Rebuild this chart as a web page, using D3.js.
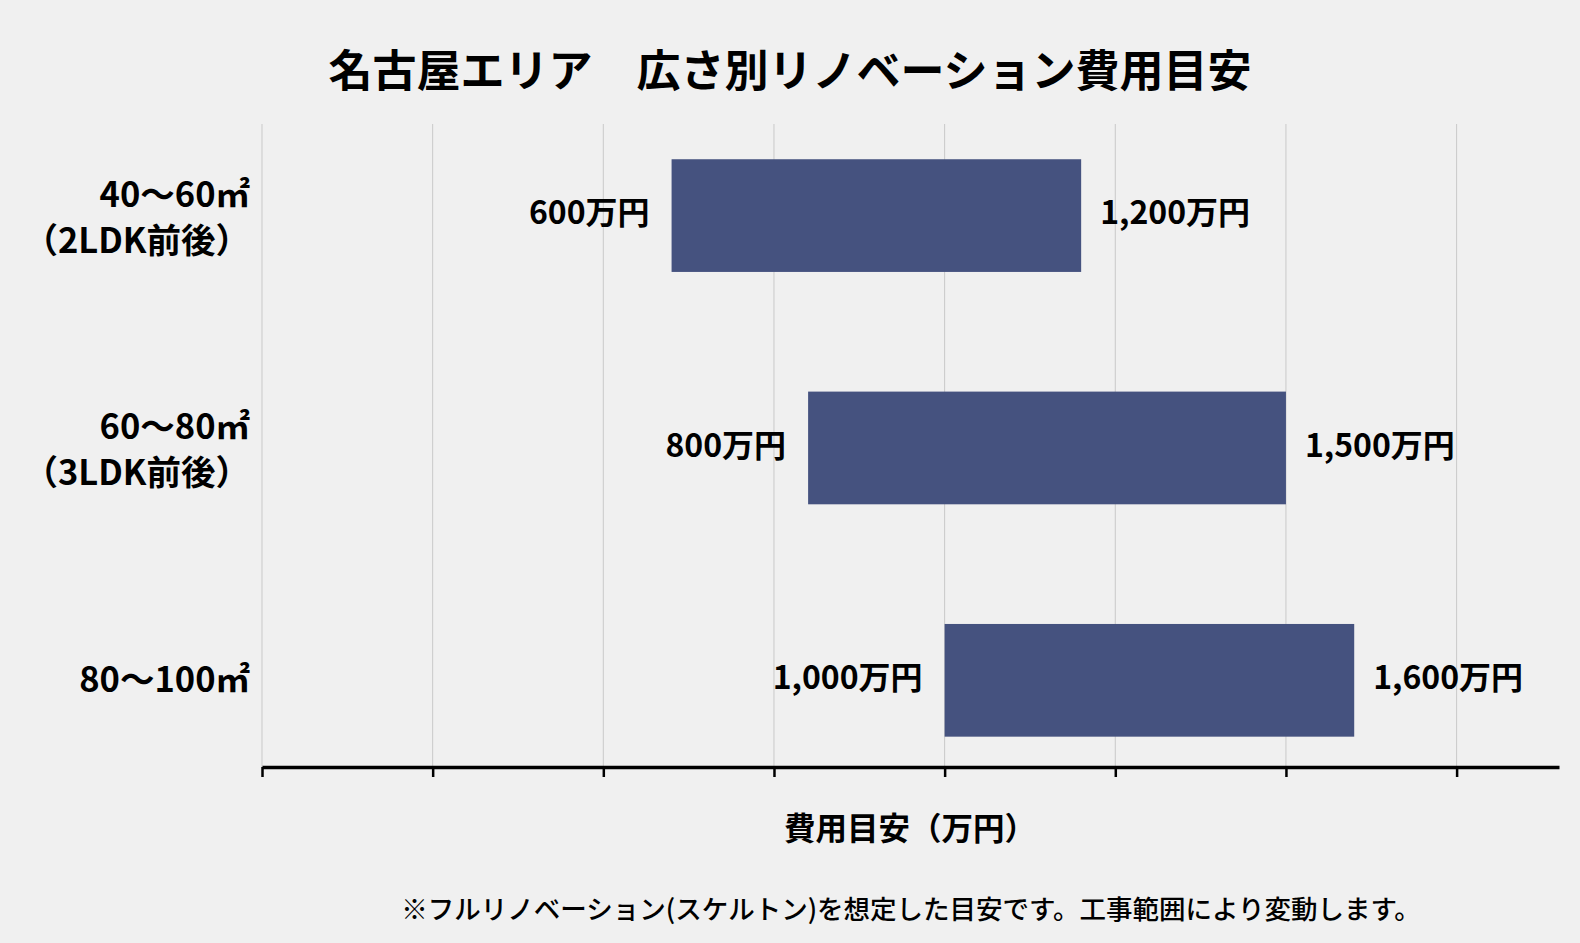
<!DOCTYPE html>
<html>
<head>
<meta charset="utf-8">
<script src="https://cdn.jsdelivr.net/npm/d3@7"></script>
<style>
  html, body { margin: 0; padding: 0; background: #f0f0f0; }
  svg { display: block; }
  text { font-family: "Noto Sans CJK JP", "Noto Sans", sans-serif; fill: #000; }
</style>
</head>
<body>
<svg class="chart"></svg>
<script>
var categories = ["40〜60㎡", "60〜80㎡", "80〜100㎡"];
var subLabels = ["（2LDK前後）", "（3LDK前後）", ""];
var lowValues = [600, 800, 1000];
var highValues = [1200, 1500, 1600];
var tickValues = [0, 250, 500, 750, 1000, 1250, 1500, 1750];
var xMax = 1900;

var title = "名古屋エリア　広さ別リノベーション費用目安";
var xTitle = "費用目安（万円）";
var note = "※フルリノベーション(スケルトン)を想定した目安です。工事範囲により変動します。";

function show() {
    'use strict';

    var W = 1580, H = 943;
    var plot = { left: 262, right: 1559, top: 124, bottom: 767 };

    var svg = d3.select(".chart").attr("width", W).attr("height", H);
    svg.append("rect").attr("width", W).attr("height", H).attr("fill", "#f0f0f0");

    var x = d3.scaleLinear().domain([0, xMax]).range([plot.left, plot.right]);
    var y = d3.scaleBand().domain(categories)
        .range([99.4, 796.5])
        .paddingInner(0.515)
        .paddingOuter(0.2575);

    var data = categories.map(function (c, i) {
        return { cat: c, sub: subLabels[i], low: lowValues[i], high: highValues[i] };
    });

    // gridlines
    svg.append("g").selectAll("line").data(tickValues).enter()
        .append("line")
        .attr("x1", function (d) { return x(d); })
        .attr("x2", function (d) { return x(d); })
        .attr("y1", plot.top)
        .attr("y2", plot.bottom)
        .attr("stroke", "#c9c9c9")
        .attr("stroke-width", 1);

    // bars
    svg.append("g").selectAll("rect").data(data).enter()
        .append("rect")
        .attr("x", function (d) { return x(d.low); })
        .attr("width", function (d) { return x(d.high) - x(d.low); })
        .attr("y", function (d) { return y(d.cat); })
        .attr("height", y.bandwidth())
        .attr("fill", "#45527f");

    // x axis
    var axis = svg.append("g")
        .attr("transform", "translate(0," + plot.bottom + ")")
        .call(d3.axisBottom(x).tickValues(tickValues).tickSize(10).tickSizeOuter(0).tickFormat(""));
    axis.select(".domain").attr("stroke", "#000").attr("stroke-width", 3.5);
    axis.selectAll(".tick line").attr("stroke", "#000").attr("stroke-width", 2.5);

    // value labels
    var fmt = d3.format(",");
    var labels = svg.append("g").attr("font-size", 32).attr("font-weight", "bold");
    labels.selectAll(".lo").data(data).enter()
        .append("text")
        .attr("x", function (d) { return x(d.low) - 22; })
        .attr("y", function (d) { return y(d.cat) + y.bandwidth() / 2; })
        .attr("dy", "0.27em")
        .attr("text-anchor", "end")
        .text(function (d) { return fmt(d.low) + "万円"; });
    labels.selectAll(".hi").data(data).enter()
        .append("text")
        .attr("x", function (d) { return x(d.high) + 19; })
        .attr("y", function (d) { return y(d.cat) + y.bandwidth() / 2; })
        .attr("dy", "0.27em")
        .text(function (d) { return fmt(d.high) + "万円"; });

    // category labels, two lines for the first two rows
    var cats = svg.append("g").attr("font-size", 34.5).attr("font-weight", "bold").attr("text-anchor", "end");
    data.forEach(function (d) {
        var cy = y(d.cat) + y.bandwidth() / 2;
        if (d.sub) {
            cats.append("text").attr("x", 250).attr("y", cy - 21).attr("dy", "0.36em").text(d.cat);
            cats.append("text").attr("x", 250).attr("y", cy + 24.5).attr("dy", "0.36em").text(d.sub);
        } else {
            cats.append("text").attr("x", 250).attr("y", cy - 1).attr("dy", "0.36em").text(d.cat);
        }
    });

    svg.append("text")
        .attr("x", 790).attr("y", 72).attr("dy", "0.35em")
        .attr("text-anchor", "middle")
        .attr("font-size", 44).attr("font-weight", "bold")
        .text(title);

    svg.append("text")
        .attr("x", 910).attr("y", 829).attr("dy", "0.35em")
        .attr("text-anchor", "middle")
        .attr("font-size", 31.5).attr("font-weight", "bold")
        .text(xTitle);

    svg.append("text")
        .attr("x", 911).attr("y", 910).attr("dy", "0.35em")
        .attr("text-anchor", "middle")
        .attr("font-size", 26.5).attr("font-weight", 500)
        .text(note);
}
show();
</script>
</body>
</html>
